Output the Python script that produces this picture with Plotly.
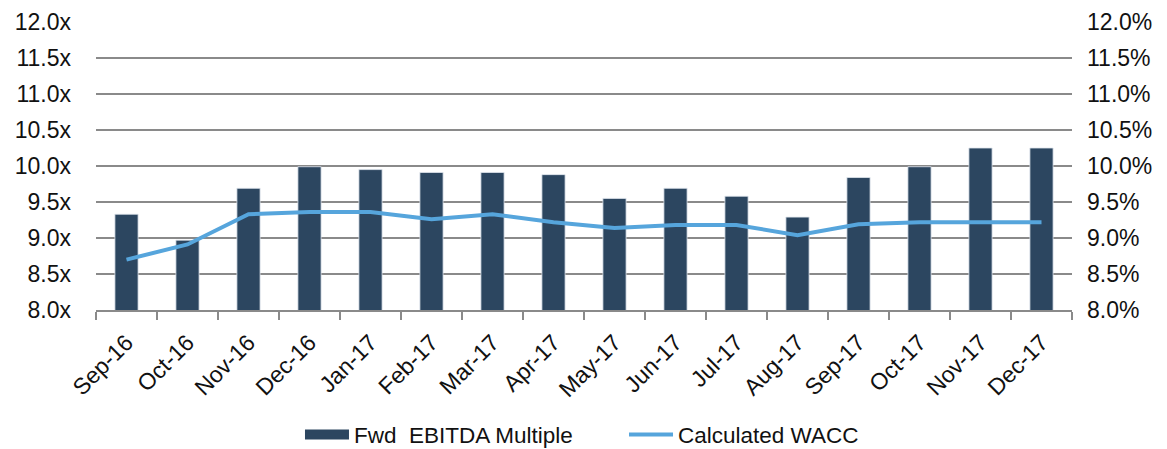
import plotly.graph_objects as go

months = ["Sep-16", "Oct-16", "Nov-16", "Dec-16", "Jan-17", "Feb-17", "Mar-17", "Apr-17",
          "May-17", "Jun-17", "Jul-17", "Aug-17", "Sep-17", "Oct-17", "Nov-17", "Dec-17"]
ebitda_multiple = [9.33, 8.97, 9.69, 9.99, 9.95, 9.91, 9.91, 9.88,
                   9.55, 9.69, 9.58, 9.29, 9.84, 9.99, 10.25, 10.25]
wacc_pct = [8.70, 8.91, 9.33, 9.36, 9.36, 9.26, 9.33, 9.22,
            9.14, 9.18, 9.18, 9.04, 9.19, 9.22, 9.22, 9.22]
tick_vals = [8.0, 8.5, 9.0, 9.5, 10.0, 10.5, 11.0, 11.5, 12.0]
left_labels = [f"{v:.1f}x" for v in tick_vals]
right_labels = [f"{v:.1f}%" for v in tick_vals]

FONT = "Liberation Sans, Arial, sans-serif"
GRID = "#8a8a8a"
BAR = "#2C4660"
LINE = "#56A5DC"

fig = go.Figure()
fig.add_trace(go.Bar(
    x=months, y=ebitda_multiple, name="Fwd  EBITDA Multiple",
    marker=dict(color=BAR, line=dict(color="#dfe6ee", width=0.8)),
    width=0.38, yaxis="y", showlegend=False,
))
# legend proxy for the bar series (wide rectangle swatch like the original)
fig.add_trace(go.Scatter(
    x=[months[0]], y=[None], name="Fwd  EBITDA Multiple", mode="lines",
    line=dict(color=BAR, width=11), yaxis="y", showlegend=True, hoverinfo="skip",
    legend="legend",
))
fig.add_trace(go.Scatter(
    x=months, y=wacc_pct, name="Calculated WACC", mode="lines",
    line=dict(color=LINE, width=4), yaxis="y2", legend="legend2",
))

leg_common = dict(orientation="h", y=-0.434, yanchor="middle", xanchor="left",
                  font=dict(size=22.5), itemwidth=44, bgcolor="rgba(0,0,0,0)")

fig.update_layout(
    width=1159, height=441,
    margin=dict(l=88, r=95, t=14, b=139, autoexpand=False),
    paper_bgcolor="white", plot_bgcolor="white",
    font=dict(family=FONT, size=23, color="#111111"),
    showlegend=True,
    legend=dict(x=0.209, **leg_common),
    legend2=dict(x=0.541, **leg_common),
    xaxis=dict(
        type="category", tickangle=-45, tickson="boundaries",
        ticks="outside", ticklen=8, tickcolor=GRID, tickwidth=2,
        showline=True, linecolor=GRID, linewidth=2,
        showgrid=False, tickfont=dict(size=23), automargin=False,
        ticklabelstandoff=8,
    ),
    yaxis=dict(
        range=[8.0, 12.0], tickmode="array", tickvals=tick_vals, ticktext=left_labels,
        showgrid=True, gridcolor=GRID, gridwidth=2, zeroline=False,
        showline=False, ticks="", ticklabelstandoff=24, automargin=False,
        tickfont=dict(size=23),
    ),
    yaxis2=dict(
        range=[8.0, 12.0], tickmode="array", tickvals=tick_vals, ticktext=right_labels,
        overlaying="y", side="right", showgrid=False, zeroline=False,
        showline=False, ticks="", ticklabelstandoff=14, automargin=False,
        tickfont=dict(size=23),
    ),
)

fig.write_html("out.html")
